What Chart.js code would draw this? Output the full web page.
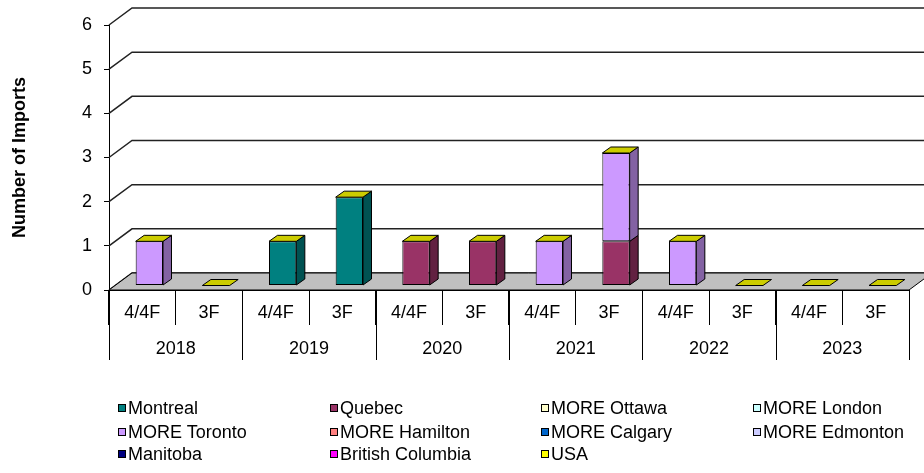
<!DOCTYPE html>
<html>
<head>
<meta charset="utf-8">
<title>Number of Imports</title>
<script src="https://cdn.jsdelivr.net/npm/chart.js@4.4.1/dist/chart.umd.min.js"></script>
<style>
body{margin:0;background:#fff;font-family:"Liberation Sans",Arial,sans-serif;}
#wrap{position:relative;width:924px;height:473px;}
#legend{position:absolute;left:0;top:0;width:924px;height:473px;pointer-events:none;}
.lg-item{position:absolute;display:flex;align-items:center;font-size:18px;color:#000;white-space:nowrap;line-height:20px;}
.lg-box{width:6px;height:6px;border:1.5px solid #000;margin-right:2px;}
</style>
</head>
<body>
<div id="wrap">
<canvas id="importsChart" width="924" height="473"></canvas>
<div id="legend"></div>
</div>
<script>

// data
const years = ["2018","2019","2020","2021","2022","2023"];
const fuelTypes = ["4/4F","3F"];

const seriesNames = ["Montreal","Quebec","MORE Ottawa","MORE London","MORE Toronto","MORE Hamilton","MORE Calgary","MORE Edmonton","Manitoba","British Columbia","USA"];
const seriesColors = ["#008080","#993366","#ffffcc","#ccffff","#cc99ff","#ff8080","#0066cc","#ccccff","#000080","#ff00ff","#ffff00"];

const montreal        = [0,0, 1,2, 0,0, 0,0, 0,0, 0,0];
const quebec          = [0,0, 0,0, 1,1, 0,1, 0,0, 0,0];
const moreOttawa      = [0,0, 0,0, 0,0, 0,0, 0,0, 0,0];
const moreLondon      = [0,0, 0,0, 0,0, 0,0, 0,0, 0,0];
const moreToronto     = [1,0, 0,0, 0,0, 1,2, 1,0, 0,0];
const moreHamilton    = [0,0, 0,0, 0,0, 0,0, 0,0, 0,0];
const moreCalgary     = [0,0, 0,0, 0,0, 0,0, 0,0, 0,0];
const moreEdmonton    = [0,0, 0,0, 0,0, 0,0, 0,0, 0,0];
const manitoba        = [0,0, 0,0, 0,0, 0,0, 0,0, 0,0];
const britishColumbia = [0,0, 0,0, 0,0, 0,0, 0,0, 0,0];
const usa             = [0,0, 0,0, 0,0, 0,0, 0,0, 0,0];

const seriesValues = [montreal,quebec,moreOttawa,moreLondon,moreToronto,moreHamilton,moreCalgary,moreEdmonton,manitoba,britishColumbia,usa];

const yTicks = [0,1,2,3,4,5,6];

const labels = [];
years.forEach(()=>fuelTypes.forEach(f=>labels.push(f)));

// 3d look
const WALL_DX = 23, WALL_DY = -17;
const BAR_DX = 7, BAR_DY = -4.5;
const FACE_DX = 8.5, FACE_DY = -6;
const FONT = "'Liberation Sans', Arial, sans-serif";

function shade(hex, f){
const n = parseInt(hex.slice(1),16);
const r = Math.round((n>>16&255)*f), g = Math.round((n>>8&255)*f), b = Math.round((n&255)*f);
return `rgb(${r},${g},${b})`;
}

function poly(ctx, pts, fill){
ctx.beginPath();
ctx.moveTo(pts[0][0],pts[0][1]);
for(let i=1;i<pts.length;i++) ctx.lineTo(pts[i][0],pts[i][1]);
ctx.closePath();
ctx.fillStyle = fill;
ctx.fill();
ctx.stroke();
}

const box3d = {
id:"box3d",
beforeDatasetsDraw(chart){
const {ctx, chartArea:a, scales:{y}} = chart;
ctx.save();
ctx.lineWidth = 1.5;
ctx.strokeStyle = "#222";
yTicks.forEach(v=>{
const py = y.getPixelForValue(v);
ctx.beginPath();
ctx.moveTo(a.left,py);
ctx.lineTo(a.left+WALL_DX,py+WALL_DY);
ctx.lineTo(chart.width,py+WALL_DY);
ctx.stroke();
});
const y0 = y.getPixelForValue(0);
ctx.lineWidth = 1;
ctx.strokeStyle = "#000";
poly(ctx,[[a.left,y0],[a.right,y0],[a.right+WALL_DX,y0+WALL_DY],[a.left+WALL_DX,y0+WALL_DY]],"#c0c0c0");
ctx.restore();
ctx.save();
ctx.translate(BAR_DX,BAR_DY);
},
afterDatasetsDraw(chart){
const ctx = chart.ctx;
const metas = chart.getSortedVisibleDatasetMetas();
ctx.lineWidth = 1;
ctx.strokeStyle = "#000";
metas.forEach(meta=>{
const col = seriesColors[meta.index];
meta.data.forEach(bar=>{
const p = bar.getProps(["x","y","base","width"],true);
if(Math.abs(p.base-p.y)<0.5) return;
const r = p.x+p.width/2;
poly(ctx,[[r,p.base],[r,p.y],[r+FACE_DX,p.y+FACE_DY],[r+FACE_DX,p.base+FACE_DY]],shade(col,0.64));
});
});
const top = metas[metas.length-1];
top.data.forEach(bar=>{
const p = bar.getProps(["x","y","width"],true);
const l = p.x-p.width/2, r = p.x+p.width/2;
poly(ctx,[[l,p.y],[r,p.y],[r+FACE_DX,p.y+FACE_DY],[l+FACE_DX,p.y+FACE_DY]],shade(seriesColors[top.index],0.8));
});
ctx.restore();
}
};

const yearAxis = {
id:"yearAxis",
afterDraw(chart){
const {ctx, scales:{x}} = chart;
const half = (x.getPixelForValue(1)-x.getPixelForValue(0))/2;
ctx.save();
ctx.strokeStyle = "#000";
ctx.lineWidth = 1;
ctx.fillStyle = "#000";
ctx.font = "18px "+FONT;
ctx.textAlign = "center";
ctx.textBaseline = "middle";
years.forEach((yr,i)=>{
const c0 = x.getPixelForValue(i*2), c1 = x.getPixelForValue(i*2+1);
const edges = [c0-half];
if(i===years.length-1) edges.push(c1+half);
edges.forEach(e=>{
const px = Math.round(e)+0.5;
ctx.beginPath();
ctx.moveTo(px,x.top);
ctx.lineTo(px,x.top+70);
ctx.stroke();
});
ctx.fillText(yr,(c0+c1)/2,x.top+59);
});
ctx.restore();
}
};

const datasets = seriesNames.map((name,i)=>({
label:name,
data:seriesValues[i],
backgroundColor:seriesColors[i],
borderColor:"#000",
borderWidth:c=>c.raw?1:0,
borderSkipped:false,
barPercentage:0.41,
categoryPercentage:1
}));

new Chart(document.getElementById("importsChart"),{
type:"bar",
data:{labels:labels,datasets:datasets},
plugins:[box3d,yearAxis],
options:{
responsive:false,
animation:false,
layout:{padding:{top:25,right:15,bottom:113,left:0}},
plugins:{legend:{display:false},tooltip:{enabled:false}},
scales:{
x:{
stacked:true,
grid:{offset:true,drawOnChartArea:false,tickLength:35,color:"#000"},
border:{color:"#000"},
ticks:{color:"#000",font:{size:18,family:FONT},padding:-23,maxRotation:0},
afterFit:s=>{s.height=70;}
},
y:{
stacked:true,
min:0,
max:6,
grid:{drawOnChartArea:false,tickLength:5,color:"#000"},
border:{display:true,color:"#000"},
ticks:{stepSize:1,color:"#000",font:{size:18,family:FONT},padding:12},
title:{display:true,text:"Number of Imports",color:"#000",font:{size:18,weight:"bold",family:FONT},padding:{top:9,bottom:0}},
afterFit:s=>{s.width=109;}
}
}
}
});

// legend, 4 columns like the original
const legend = document.getElementById("legend");
const colX = [118,330,541,753];
const rowY = [398,422,444];
seriesNames.forEach((name,i)=>{
const item = document.createElement("div");
item.className = "lg-item";
item.style.left = colX[i%4]+"px";
item.style.top = rowY[Math.floor(i/4)]+"px";
item.innerHTML = `<span class="lg-box" style="background:${seriesColors[i]}"></span>${name}`;
legend.appendChild(item);
});

</script>
</body>
</html>
